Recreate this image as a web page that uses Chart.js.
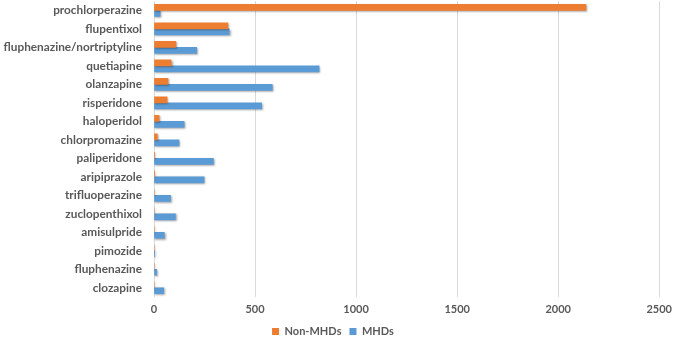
<!DOCTYPE html>
<html>
<head>
<meta charset="utf-8">
<script src="https://cdn.jsdelivr.net/npm/chart.js@4"></script>
<style>
  html, body { margin: 0; padding: 0; background: #fff; }
  #wrap { width: 678px; height: 339px; }
</style>
</head>
<body>
<div id="wrap"><canvas id="drugChart"></canvas></div>
<script>
let drugs = ['prochlorperazine','flupentixol','fluphenazine/nortriptyline','quetiapine','olanzapine',
  'risperidone','haloperidol','chlorpromazine','paliperidone','aripiprazole','trifluoperazine',
  'zuclopenthixol','amisulpride','pimozide','fluphenazine','clozapine'];
let nonMhds = [2137, 366, 108, 85, 69, 65, 25, 16, 3, 3, 0, 0, 0, 0, 0, 0];
let mhds = [30, 372, 211, 817, 585, 533, 149, 124, 294, 248, 82, 106, 51, 1, 13, 48];
let xTicks = [0, 500, 1000, 1500, 2000, 2500];

// soft drop shadow under the bars, like the office chart
let barShadow = {
  id: 'barShadow',
  beforeDatasetsDraw(chart) {
    let ctx = chart.ctx;
    ctx.save();
    ctx.shadowColor = 'rgba(0,0,0,0.35)';
    ctx.shadowBlur = 2;
    ctx.shadowOffsetX = 1;
    ctx.shadowOffsetY = 1;
  },
  afterDatasetsDraw(chart) {
    chart.ctx.restore();
  }
};

// keep the legend box short so the plot can go lower
let legendHeight = {
  id: 'legendHeight',
  beforeLayout(chart) {
    let lg = chart.legend;
    if (lg && !lg._patched) {
      let fit = lg.fit;
      lg.fit = function() { fit.call(this); this.height = 21; };
      lg._patched = true;
    }
  }
};

let ctx = document.getElementById('drugChart').getContext('2d');
let drugChart = new Chart(ctx, {
  type: 'bar',
  data: {
    labels: drugs,
    datasets: [{
      label: 'Non-MHDs',
      data: nonMhds,
      backgroundColor: '#ED7D31',
      barThickness: 6,
    }, {
      label: 'MHDs',
      data: mhds,
      backgroundColor: '#5B9BD5',
      barThickness: 6,
    }]
  },
  options: {
    indexAxis: 'y',
    responsive: true,
    maintainAspectRatio: false,
    animation: false,
    layout: {
      padding: { top: 1, right: 12, left: 0, bottom: 0 }
    },
    plugins: {
      legend: {
        display: true,
        position: 'bottom',
        labels: {
          boxWidth: 7,
          boxHeight: 7,
          padding: 8,
          color: '#595959',
          font: { family: 'Lato', size: 11, weight: 'bold' }
        }
      },
      tooltip: { enabled: false }
    },
    scales: {
      x: {
        min: 0,
        max: 2500,
        afterBuildTicks(scale) {
          scale.ticks = xTicks.map(v => ({ value: v }));
        },
        afterFit(scale) { scale.height = 21; },
        grid: { color: '#d9d9d9', drawTicks: false },
        border: { display: false },
        ticks: {
          padding: 6,
          color: '#595959',
          font: { family: 'Lato', size: 11, weight: 'bold' },
          callback: v => String(v)
        }
      },
      y: {
        grid: { display: false, drawTicks: true, tickLength: 12 },
        border: { display: false },
        afterFit(scale) { scale.width = 154; },
        ticks: {
          autoSkip: false,
          padding: 0,
          color: '#595959',
          font: { family: 'Lato', size: 11.8, weight: 'bold', lineHeight: 0.2 }
        }
      }
    }
  },
  plugins: [barShadow, legendHeight]
});
</script>
</body>
</html>
